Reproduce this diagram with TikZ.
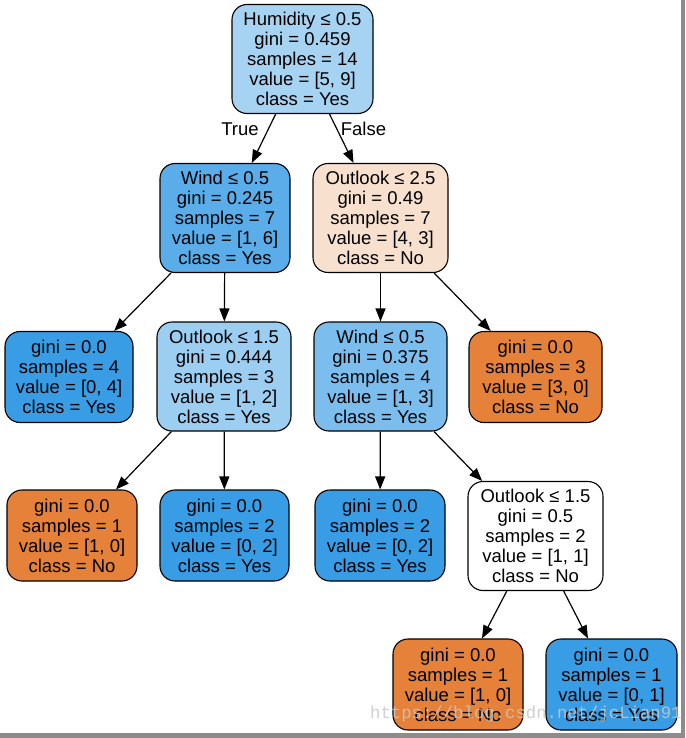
\documentclass[tikz,border=0pt]{standalone}
\usepackage{fontspec}
\setmainfont{Liberation Sans}
\newfontfamily\wmfont{Liberation Mono}
\usetikzlibrary{arrows.meta}
\definecolor{cyes}{HTML}{399DE5}
\definecolor{cno}{HTML}{E58139}
\definecolor{croot}{HTML}{A7D3F3}
\definecolor{cwindA}{HTML}{5AADE9}
\definecolor{coutA}{HTML}{F8E0CE}
\definecolor{coutB}{HTML}{9CCEF2}
\definecolor{cwindB}{HTML}{7BBEEE}
\definecolor{frame}{HTML}{8C8C8C}
\definecolor{wmgray}{HTML}{C8C8C8}
\tikzset{
  tn/.style={draw=black, line width=1.1pt, rounded corners=15pt, align=center,
    inner sep=0pt, font=\fontsize{18.5}{20}\selectfont},
  five/.style={tn, minimum height=109pt},
  four/.style={tn, minimum height=91pt},
  edge/.style={draw=black, line width=1.2pt, -{Triangle[length=13pt,width=10pt]}},
  elabel/.style={font=\fontsize{18.5}{20}\selectfont, inner sep=0pt}
}
\begin{document}
\begin{tikzpicture}[x=1pt,y=-1pt]
\useasboundingbox (0,0) rectangle (685,738);
\fill[white] (0,0) rectangle (685,738);
% level 0
\node[five, fill=croot, minimum width=141pt] (n0) at (302.5,59)
  {Humidity ≤ 0.5\\gini = 0.459\\samples = 14\\value = [5, 9]\\class = Yes};
% level 1
\node[five, fill=cwindA, minimum width=130pt] (n1) at (225,218)
  {Wind ≤ 0.5\\gini = 0.245\\samples = 7\\value = [1, 6]\\class = Yes};
\node[five, fill=coutA, minimum width=135pt] (n2) at (380.5,218)
  {Outlook ≤ 2.5\\gini = 0.49\\samples = 7\\value = [4, 3]\\class = No};
% level 2
\node[four, fill=cyes, minimum width=128pt] (n3) at (69,377)
  {gini = 0.0\\samples = 4\\value = [0, 4]\\class = Yes};
\node[five, fill=coutB, minimum width=134pt] (n4) at (224,376.5)
  {Outlook ≤ 1.5\\gini = 0.444\\samples = 3\\value = [1, 2]\\class = Yes};
\node[five, fill=cwindB, minimum width=133pt] (n5) at (380.5,376.5)
  {Wind ≤ 0.5\\gini = 0.375\\samples = 4\\value = [1, 3]\\class = Yes};
\node[four, fill=cno, minimum width=133pt] (n6) at (535.5,377)
  {gini = 0.0\\samples = 3\\value = [3, 0]\\class = No};
% level 3
\node[four, fill=cno, minimum width=130pt] (n7) at (72,535.5)
  {gini = 0.0\\samples = 1\\value = [1, 0]\\class = No};
\node[four, fill=cyes, minimum width=129pt] (n8) at (224.5,535.5)
  {gini = 0.0\\samples = 2\\value = [0, 2]\\class = Yes};
\node[four, fill=cyes, minimum width=130pt] (n9) at (380,535.5)
  {gini = 0.0\\samples = 2\\value = [0, 2]\\class = Yes};
\node[five, fill=white, minimum width=135pt] (n10) at (535.5,536)
  {Outlook ≤ 1.5\\gini = 0.5\\samples = 2\\value = [1, 1]\\class = No};
% level 4
\node[four, fill=cno, minimum width=130pt] (n11) at (458,684.5)
  {gini = 0.0\\samples = 1\\value = [1, 0]\\class = No};
\node[four, fill=cyes, minimum width=131pt] (n12) at (611.5,684.5)
  {gini = 0.0\\samples = 1\\value = [0, 1]\\class = Yes};
% edges
\draw[edge] (n0) -- (n1);
\draw[edge] (n0) -- (n2);
\draw[edge] (n1) -- (n3);
\draw[edge] (n1) -- (n4);
\draw[edge] (n2) -- (n5);
\draw[edge] (n2) -- (n6);
\draw[edge] (n4) -- (n7);
\draw[edge] (n4) -- (n8);
\draw[edge] (n5) -- (n9);
\draw[edge] (n5) -- (n10);
\draw[edge] (n10) -- (n11);
\draw[edge] (n10) -- (n12);
% edge labels
\node[elabel] (lt) at (240,129) {True};
\node[elabel] (lf) at (363.5,129) {False};
% watermark
\node[font=\wmfont\fontsize{17.3}{17.3}\selectfont, text=wmgray, opacity=0.85,
  anchor=base west, inner sep=0pt] (wm) at (370,718) {https://blog.csdn.net/jcLian91};
% frame
\fill[frame] (681,0) rectangle (685,738);
\fill[frame] (0,733) rectangle (685,738);
\end{tikzpicture}
\end{document}
